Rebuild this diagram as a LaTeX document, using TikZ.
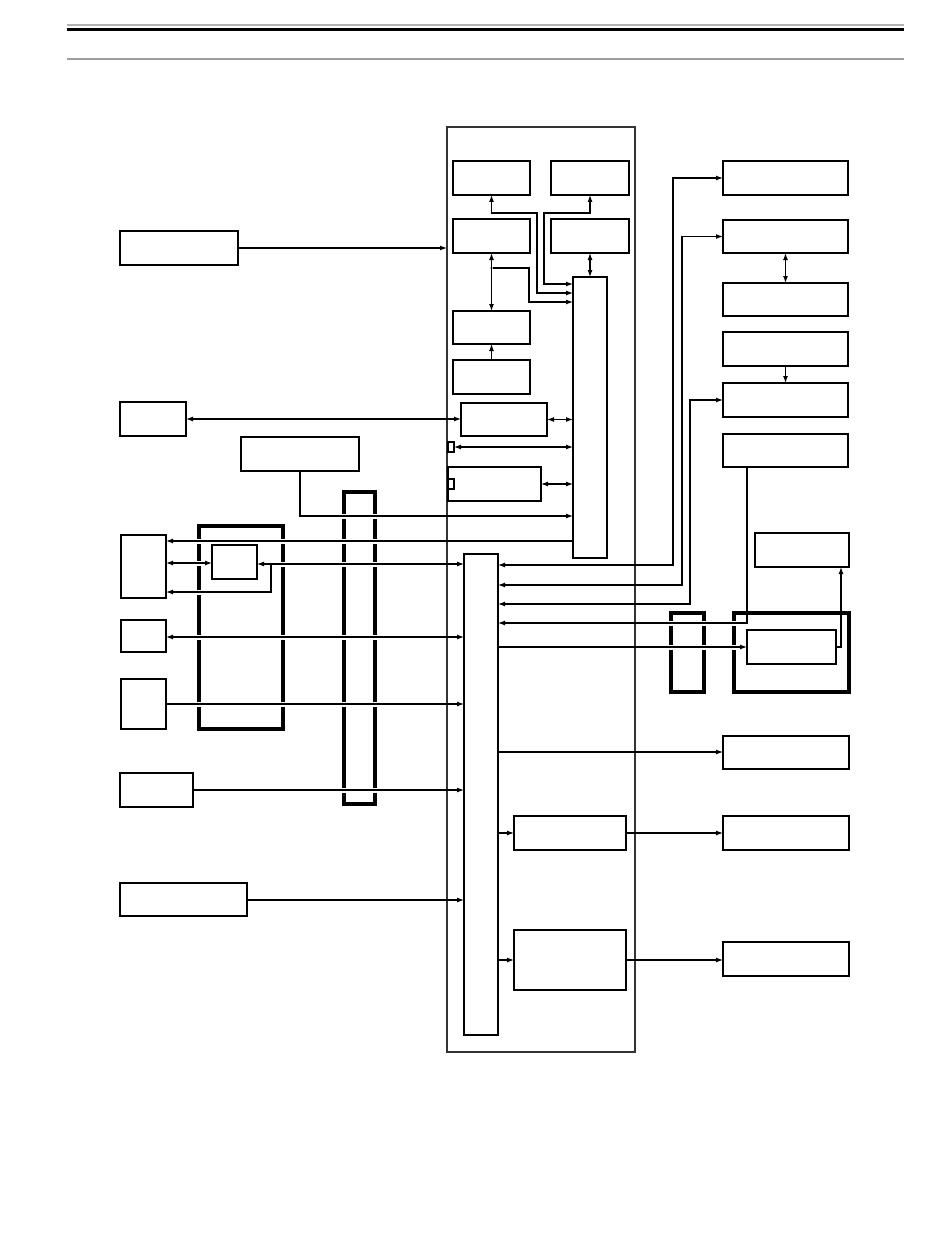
\documentclass[tikz,border=0pt]{standalone}
\usetikzlibrary{arrows.meta}
\tikzset{
  x=1pt,y=-1pt,
  box/.style={draw=black,line width=1.2pt,inner sep=0pt,outer sep=0pt,anchor=north west},
  thickline/.style={draw=black,line width=3.2pt},
  gapline/.style={draw=white,line width=5pt},
  frame/.style={draw=black!80,line width=1.6pt,inner sep=0pt,outer sep=0pt,anchor=north west},
  wire/.style={line width=1.2pt,>={Latex[length=7pt,width=5pt]}},
  dotmark/.style={fill=black,inner sep=0pt,minimum size=2.4pt,circle}
}
\newcommand\bx[6][box]{\node[#1,minimum width=#5pt-#3pt,minimum height=#6pt-#4pt] (#2) at (#3,#4) {};}
\newcommand\gapat[2]{\path[gapline] ({#1-4},#2) -- ({#1+4},#2);}
\begin{document}
\begin{tikzpicture}
\useasboundingbox (0,0) rectangle (950,1241);
% header rules
\draw[black!30,line width=1.5pt] (67,25) -- (904,25);
\draw[black,line width=2.6pt] (67,29.5) -- (904,29.5);
\draw[black!38,line width=1.6pt] (67,59) -- (904,59);
% thick harness boxes
\draw[thickline] (199,526) rectangle (283,729);
\draw[thickline] (344,492) rectangle (375,804);
\draw[thickline] (671,613) rectangle (704,692);
\draw[thickline] (734,613) rectangle (849,692);
% gaps where wires pass the harness borders
\foreach \yy in {541,563,592,637,704} {\gapat{199}{\yy}}
\foreach \yy in {541,564,637,704} {\gapat{283}{\yy}}
\foreach \yy in {516,541,564,637,704,790} {\gapat{344}{\yy}\gapat{375}{\yy}}
\foreach \yy in {623,647} {\gapat{671}{\yy}\gapat{704}{\yy}\gapat{734}{\yy}}
% container
\bx[frame]{Z}{447}{127}{635}{1052}
% boxes inside container
\bx{A}{453}{161}{530}{195}
\bx{B}{551}{161}{629}{195}
\bx{C}{453}{219}{530}{253}
\bx{D}{551}{219}{629}{253}
\bx{E}{573}{277}{607}{558}
\bx{F}{453}{311}{530}{344}
\bx{G}{453}{360}{530}{394}
\bx{H}{461}{403}{547}{436}
\bx{Ia}{448}{442}{454}{452}
\bx{J}{448}{467}{541}{501}
\bx{Ib}{448}{479}{454}{489}
\bx{R}{464}{554}{498}{1035}
\bx{Ya}{514}{816}{626}{850}
\bx{Yb}{514}{930}{626}{990}
% left boxes
\bx{M}{120}{231}{238}{265}
\bx{N}{120}{402}{186}{436}
\bx{K}{241}{437}{359}{471}
\bx{La}{121}{535}{166}{598}
\bx{Q}{212}{545}{257}{579}
\bx{Lb}{121}{620}{166}{652}
\bx{Lc}{121}{679}{166}{729}
\bx{Ld}{120}{773}{193}{807}
\bx{Le}{120}{883}{247}{916}
% right boxes
\bx{Ta}{723}{161}{848}{195}
\bx{Tb}{723}{220}{848}{253}
\bx{Tc}{723}{283}{848}{316}
\bx{Td}{723}{332}{848}{366}
\bx{Te}{723}{383}{848}{417}
\bx{Tf}{723}{434}{848}{467}
\bx{U}{755}{533}{849}{567}
\bx{W}{747}{630}{836}{664}
\bx{Xa}{723}{736}{849}{769}
\bx{Xb}{723}{816}{849}{850}
\bx{Xc}{723}{942}{849}{976}
\node[dotmark] (jc) at (491.5,268) {};
\node[dotmark] (jq) at (271,564) {};
% inside container
\draw[wire,<->] (A.south) -- (491.5,213) -- (537,213) -- (537,293) -- (E.west |- 0,293);
\draw[wire,<->] (B.south) -- (590,213) -- (544,213) -- (544,284) -- (E.west |- 0,284);
\draw[wire,->] (jc) -- (529,268) -- (529,302) -- (E.west |- 0,302);
\draw[wire,<->] (C.south) -- (F.north);
\draw[wire,->] (G.north) -- (F.south);
\draw[wire,<->] (D.south) -- (E.north);
\draw[wire,<->] (H.east) -- (E.west |- H.east);
\draw[wire,<->] (Ia.east) -- (E.west |- Ia.east);
\draw[wire,<->] (J.east) -- (E.west |- J.east);
% left side
\draw[wire,->] (M.east) -- (Z.west |- M.east);
\draw[wire,<->] (N.east) -- (H.west |- N.east);
\draw[wire,->] (K.south) -- (300,516) -- (E.west |- 0,516);
\draw[wire,->] (E.west |- 0,541) -- (La.east |- 0,541);
\draw[wire,<->] (La.east |- 0,563) -- (Q.west |- 0,563);
\draw[wire,<->] (Q.east |- 0,564) -- (R.west |- 0,564);
\draw[wire,->] (jq) -- (271,592) -- (La.east |- 0,592);
\draw[wire,<->] (Lb.east |- 0,637) -- (R.west |- 0,637);
\draw[wire,->] (Lc.east |- 0,704) -- (R.west |- 0,704);
\draw[wire,->] (Ld.east |- 0,790) -- (R.west |- 0,790);
\draw[wire,->] (Le.east |- 0,900) -- (R.west |- 0,900);
% right side
\draw[wire,<->] (R.east |- 0,565) -- (673,565) -- (673,178) -- (Ta.west);
\draw[wire,<->] (R.east |- 0,585) -- (682,585) -- (682,236.5) -- (Tb.west);
\draw[wire,<->] (R.east |- 0,604) -- (690,604) -- (690,400) -- (Te.west);
\draw[wire,->] (Tf.south -| 747,0) -- (747,623) -- (R.east |- 0,623);
\draw[wire,->] (R.east |- W.west) -- (W.west);
\draw[wire,->] (W.east) -- (841,647) -- (U.south -| 841,0);
\draw[wire,<->] (Tb.south) -- (Tc.north);
\draw[wire,->] (Td.south) -- (Te.north);
\draw[wire,->] (R.east |- 0,752) -- (Xa.west |- 0,752);
\draw[wire,->] (R.east |- Ya.west) -- (Ya.west);
\draw[wire,->] (Ya.east) -- (Xb.west |- Ya.east);
\draw[wire,->] (R.east |- Yb.west) -- (Yb.west);
\draw[wire,->] (Yb.east) -- (Xc.west |- Yb.east);
\end{tikzpicture}
\end{document}
